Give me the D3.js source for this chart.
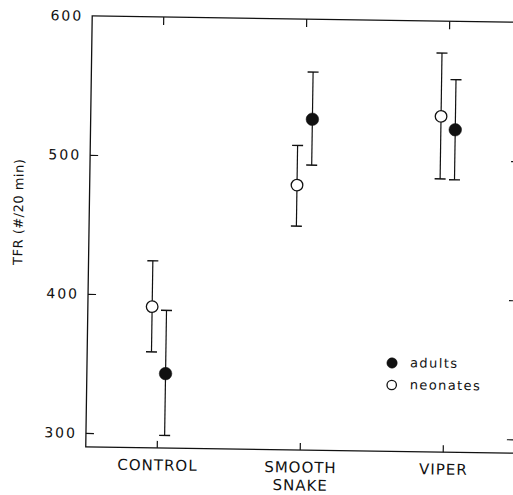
<!DOCTYPE html>
<html>
<head>
<meta charset="utf-8">
<script src="https://cdn.jsdelivr.net/npm/d3@7"></script>
<style>
  html, body { margin: 0; padding: 0; background: #fff; }
  svg { display: block; }
  text { font-family: "DejaVu Sans", sans-serif; fill: #111; }
</style>
</head>
<body>
<svg id="chart" width="513" height="495"></svg>
<script>
// ---- data ----
const categories = ["CONTROL", "SMOOTH SNAKE", "VIPER"];
const adultsMean = [343.5, 528, 522];
const adultsLow = [299, 495, 486];
const adultsHigh = [389, 562, 558];
const neonatesMean = [391.5, 480.5, 531.5];
const neonatesLow = [359, 451, 486.5];
const neonatesHigh = [424.5, 509, 577];
const yTicks = [300, 400, 500, 600];
const yDomain = [290, 600];
const yTitle = "TFR (#/20 min)";
const legendLabels = ["adults", "neonates"];

// ---- layout ----
const mLeft = 89, mRight = 518, mTop = 19, mBottom = 450;
const svg = d3.select("#chart");
const root = svg.append("g").attr("transform", "rotate(0.86, 300, 232)");

const x = d3.scaleBand().domain(categories).range([mLeft, mRight]).padding(0);
const y = d3.scaleLinear().domain(yDomain).range([mBottom, mTop]);
const cx = c => x(c) + x.bandwidth() / 2;
const off = 7.2;

// frame
root.append("rect")
  .attr("x", mLeft).attr("y", mTop)
  .attr("width", mRight - mLeft).attr("height", mBottom - mTop)
  .attr("fill", "none").attr("stroke", "#111").attr("stroke-width", 1.3);

// left axis (inward ticks)
const leftAxis = d3.axisRight(y).tickValues(yTicks.filter(v => v < 600)).tickSize(8).tickFormat("");
const gl = root.append("g").attr("transform", `translate(${mLeft},0)`).call(leftAxis);
gl.select(".domain").remove();
gl.selectAll(".tick line").attr("stroke", "#111").attr("stroke-width", 1.2);

// right axis (inward ticks)
const rightAxis = d3.axisLeft(y).tickValues(yTicks.filter(v => v < 600)).tickSize(8).tickFormat("");
const gr = root.append("g").attr("transform", `translate(${mRight},0)`).call(rightAxis);
gr.select(".domain").remove();
gr.selectAll(".tick line").attr("stroke", "#111").attr("stroke-width", 1.2);

// y tick labels
root.append("g").selectAll("text").data(yTicks).join("text")
  .attr("x", mLeft - 9).attr("y", d => y(d))
  .attr("dy", "0.36em")
  .attr("text-anchor", "end")
  .attr("font-size", 14)
  .attr("letter-spacing", 2)
  .text(d => d);

// top axis ticks (pointing down)
const topAxis = d3.axisBottom(x).tickSize(8).tickFormat("");
const gt = root.append("g").attr("transform", `translate(0,${mTop})`).call(topAxis);
gt.select(".domain").remove();
gt.selectAll(".tick line").attr("stroke", "#111").attr("stroke-width", 1.2);

// bottom axis ticks (pointing up)
const botAxis = d3.axisTop(x).tickSize(7).tickFormat("");
const gb = root.append("g").attr("transform", `translate(0,${mBottom})`).call(botAxis);
gb.select(".domain").remove();
gb.selectAll(".tick line").attr("stroke", "#111").attr("stroke-width", 1.2);

// category labels
const catG = root.append("g");
categories.forEach(c => {
  const words = c.split(" ");
  const t = catG.append("text")
    .attr("x", cx(c)).attr("y", 472.5)
    .attr("text-anchor", "middle")
    .attr("font-size", 15)
    .attr("letter-spacing", 1);
  words.forEach((w, i) => {
    t.append("tspan").attr("x", cx(c) + 0.5).attr("dy", i === 0 ? 0 : 18).text(w);
  });
});

// y title
root.append("text")
  .attr("transform", `translate(22.7, 216) rotate(-90)`)
  .attr("text-anchor", "middle")
  .attr("font-size", 13)
  .attr("letter-spacing", 0.5)
  .text(yTitle);

// error bars + markers
function drawSeries(means, lows, highs, dx, filled) {
  const g = root.append("g");
  const data = categories.map((c, i) => ({ c, m: means[i], lo: lows[i], hi: highs[i] }));
  const bars = g.selectAll("g.bar").data(data).join("g").attr("class", "bar");
  bars.append("line")
    .attr("x1", d => cx(d.c) + dx).attr("x2", d => cx(d.c) + dx)
    .attr("y1", d => y(d.lo)).attr("y2", d => y(d.hi))
    .attr("stroke", "#111").attr("stroke-width", 1.2);
  ["lo", "hi"].forEach(k => {
    bars.append("line")
      .attr("x1", d => cx(d.c) + dx - 5.5).attr("x2", d => cx(d.c) + dx + 5.5)
      .attr("y1", d => y(d[k])).attr("y2", d => y(d[k]))
      .attr("stroke", "#111").attr("stroke-width", 1.4);
  });
  bars.append("circle")
    .attr("cx", d => cx(d.c) + dx).attr("cy", d => y(d.m))
    .attr("r", filled ? 6.3 : 5.8)
    .attr("fill", filled ? "#111" : "#fff")
    .attr("stroke", "#111").attr("stroke-width", filled ? 0.5 : 1.3);
}
drawSeries(neonatesMean, neonatesLow, neonatesHigh, -off, false);
drawSeries(adultsMean, adultsLow, adultsHigh, off, true);

// legend
const leg = root.append("g");
legendLabels.forEach((lab, i) => {
  const yy = 361.6 + i * 22;
  leg.append("circle")
    .attr("cx", 394).attr("cy", yy).attr("r", i === 0 ? 5.2 : 4.7)
    .attr("fill", i === 0 ? "#111" : "#fff")
    .attr("stroke", "#111").attr("stroke-width", i === 0 ? 0.5 : 1.3);
  leg.append("text")
    .attr("x", 412).attr("y", yy + 4)
    .attr("font-size", 13)
    .attr("letter-spacing", 1.4)
    .text(lab);
});
</script>
</body>
</html>
